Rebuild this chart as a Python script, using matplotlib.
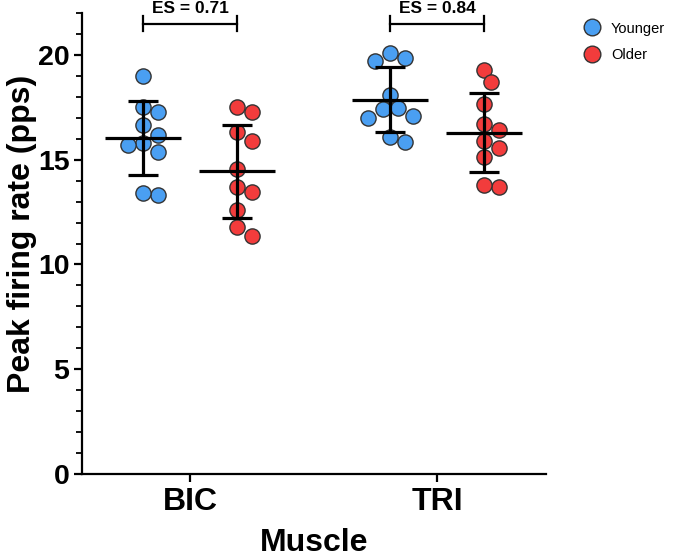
import matplotlib
matplotlib.use("Agg")
import matplotlib.pyplot as plt
from matplotlib.lines import Line2D
from matplotlib.ticker import MultipleLocator
import numpy as np

plt.rcParams['font.family'] = ['Liberation Sans', 'DejaVu Sans']

muscles = ['BIC', 'TRI']
groups = ['Younger', 'Older']
colors = ['#4a9ff2', '#f23c3c']

# peak firing rates (pps)
younger_bic = [19.0, 17.5, 17.3, 16.65, 16.2, 15.8, 15.7, 15.35, 13.3, 13.4]
older_bic = [17.3, 17.5, 16.3, 15.9, 14.55, 13.7, 13.45, 12.6, 11.8, 11.35]
younger_tri = [20.1, 19.85, 19.7, 18.1, 17.1, 17.4, 17.0, 17.45, 15.85, 16.1]
older_tri = [19.3, 18.7, 17.65, 16.7, 16.4, 15.9, 15.55, 15.15, 13.7, 13.8]
data = {('BIC', 'Younger'): younger_bic, ('BIC', 'Older'): older_bic,
        ('TRI', 'Younger'): younger_tri, ('TRI', 'Older'): older_tri}
es_labels = ['ES = 0.71', 'ES = 0.84']

fig = plt.figure(figsize=(6.75, 5.59), dpi=100)
ax = fig.add_axes([0.1215, 0.152, 0.6874, 0.8247])
ax.set_xlim(-0.437, 1.441)
ax.set_ylim(0, 22)

offset = 0.19
diam = 15.0  # marker diameter in pixels


def swarm(xc, ys):
    # simple beeswarm in display space
    pts = ax.transData.transform(np.column_stack([np.full(len(ys), xc), ys]))
    order = np.argsort(-pts[:, 1])
    placed = []
    out = np.zeros_like(pts)
    for i in order:
        x0, y0 = pts[i]
        for k in range(0, 20):
            cands = [0] if k == 0 else [k * diam / 2, -k * diam / 2]
            ok = None
            for c in cands:
                if all((x0 + c - px) ** 2 + (y0 - py) ** 2 >= (0.92 * diam) ** 2 for px, py in placed):
                    ok = c
                    break
            if ok is not None:
                placed.append((x0 + ok, y0))
                out[i] = (x0 + ok, y0)
                break
    return ax.transData.inverted().transform(out)[:, 0]


for mi, m in enumerate(muscles):
    for gi, g in enumerate(groups):
        ys = np.array(data[(m, g)])
        xc = mi + (-offset if gi == 0 else offset)
        xs = swarm(xc, ys)
        ax.scatter(xs, ys, s=120, color=colors[gi], edgecolor='#333333',
                   linewidth=1, zorder=3)
        mean = ys.mean()
        sd = ys.std(ddof=1)
        ax.hlines(mean, xc - 0.155, xc + 0.155, color='black', lw=2.3, zorder=4)
        ax.errorbar(xc, mean, yerr=sd, fmt='none', ecolor='black', elinewidth=2.3,
                    capsize=11, capthick=2.3, zorder=4)
    # effect size bracket
    x1, x2 = mi - offset, mi + offset
    ax.plot([x1, x2], [21.5, 21.5], color='black', lw=1.6, clip_on=False)
    ax.plot([x1, x1], [21.15, 21.85], color='black', lw=1.6, clip_on=False)
    ax.plot([x2, x2], [21.15, 21.85], color='black', lw=1.6, clip_on=False)
    ax.text(mi, 21.98, es_labels[mi], ha='center', va='baseline', fontsize=12.5,
            fontweight='bold', clip_on=False)

ax.set_xticks([0, 1])
ax.set_xticklabels(muscles, fontsize=23, fontweight='bold')
ax.set_yticks([0, 5, 10, 15, 20])
ax.set_yticklabels(['0', '5', '10', '15', '20'], fontsize=20.5, fontweight='bold')
ax.yaxis.set_minor_locator(MultipleLocator(1))
ax.tick_params(axis='both', which='major', length=6, width=1.6, pad=3)
ax.tick_params(axis='y', which='minor', length=4, width=1.3)
for s in ['top', 'right']:
    ax.spines[s].set_visible(False)
for s in ['left', 'bottom']:
    ax.spines[s].set_linewidth(1.6)

ax.set_xlabel('Muscle', fontsize=23, fontweight='bold', labelpad=8)
ax.set_ylabel('Peak firing rate (pps)', fontsize=23, fontweight='bold')
ax.yaxis.set_label_coords(-0.097, 0.52)

handles = [Line2D([], [], marker='o', linestyle='none', markersize=12,
                  markerfacecolor=c, markeredgecolor='#333333', markeredgewidth=1)
           for c in colors]
fig.legend(handles, groups, loc='upper left', bbox_to_anchor=(0.836, 0.985),
           frameon=False, fontsize=10.5, handletextpad=0.3, labelspacing=0.85)

fig.savefig('out.png', dpi=100)
